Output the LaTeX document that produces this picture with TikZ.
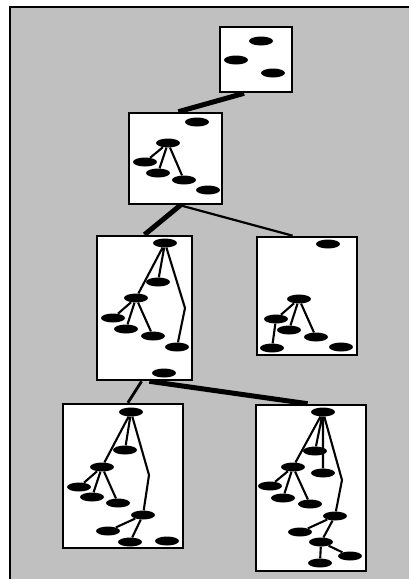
\documentclass[tikz,border=0pt]{standalone}
\usetikzlibrary{shapes.geometric,calc}
\definecolor{canvas}{HTML}{C0C0C0}
\begin{document}
\begin{tikzpicture}[x=1pt,y=-1pt,
  panel/.style={draw=black,line width=2.6pt,fill=white,inner sep=0pt},
  blob/.style={ellipse,fill=black,inner sep=0pt,minimum width=24pt,minimum height=9pt},
  link/.style={line width=2.1pt,line join=round},
  thickconn/.style={line width=5pt},
  thinconn/.style={line width=2.2pt},
  midconn/.style={line width=2.8pt}]
\useasboundingbox (0,0) rectangle (408,579);
% background sheet
\fill[canvas] (10,7) rectangle (412,583);
\draw[line width=2.2pt] (10,583) -- (10,7) -- (412,7);

% panels
\node[panel,minimum width=72pt,minimum height=65pt] (p1) at (256,59.5) {};
\node[panel,minimum width=93pt,minimum height=91pt] (p2) at (175.5,158.5) {};
\node[panel,minimum width=95pt,minimum height=144pt] (p3) at (144.5,308) {};
\node[panel,minimum width=100pt,minimum height=118pt] (p4) at (307,296) {};
\node[panel,minimum width=120pt,minimum height=144pt] (p5) at (123,476) {};
\node[panel,minimum width=110pt,minimum height=166pt] (p6) at (311,488) {};

% connectors between panels
\draw[thickconn] ($(p1.south west)!0.34!(p1.south east)$) -- ($(p2.north west)!0.53!(p2.north east)$);
\draw[thickconn] ($(p2.south west)!0.55!(p2.south east)$) -- ($(p3.north west)!0.50!(p3.north east)$);
\draw[thinconn]  ($(p2.south west)!0.55!(p2.south east)$) -- ($(p4.north west)!0.36!(p4.north east)$);
\draw[midconn]   ($(p3.south west)!0.47!(p3.south east)$) -- ($(p5.north west)!0.54!(p5.north east)$);
\draw[thickconn] ($(p3.south west)!0.55!(p3.south east)$) -- ($(p6.north west)!0.47!(p6.north east)$);

% panel 1
\node[blob] (a1) at (261,41) {};
\node[blob] (a2) at (236,60) {};
\node[blob] (a3) at (273,73) {};

% panel 2
\node[blob] (b1) at (197,122) {};
\node[blob] (b2) at (168,143) {};
\node[blob] (b3) at (145,162) {};
\node[blob] (b4) at (158,173) {};
\node[blob] (b5) at (184,180) {};
\node[blob] (b6) at (208,190) {};
\draw[link] (b2) -- (b3) (b2) -- (b4) (b2) -- (b5);

% panel 3
\node[blob] (c1) at (165,243) {};
\node[blob] (c2) at (158,282) {};
\node[blob] (c3) at (136,298) {};
\node[blob] (c4) at (113,318) {};
\node[blob] (c5) at (126,329) {};
\node[blob] (c6) at (153,336) {};
\node[blob] (c7) at (177,347) {};
\node[blob] (c8) at (164,373) {};
\coordinate (cb) at (185,308);
\draw[link] (c1) -- (c2) (c1) -- (c3) (c3) -- (c4) (c3) -- (c5) (c3) -- (c6);
\draw[link] (c1) -- (cb) -- (c7);

% panel 4
\node[blob] (d1) at (328,244) {};
\node[blob] (d2) at (299,299) {};
\node[blob] (d3) at (276,319) {};
\node[blob] (d4) at (289,330) {};
\node[blob] (d5) at (316,337) {};
\node[blob] (d6) at (272,348) {};
\node[blob] (d7) at (341,347) {};
\draw[link] (d2) -- (d3) (d2) -- (d4) (d2) -- (d5) (d3) -- (d6);

% panel 5
\node[blob] (e1) at (131,412) {};
\node[blob] (e2) at (125,450) {};
\node[blob] (e3) at (102,467) {};
\node[blob] (e4) at (79,487) {};
\node[blob] (e5) at (92,497) {};
\node[blob] (e6) at (118,503) {};
\node[blob] (e7) at (143,515) {};
\node[blob] (e8) at (108,531) {};
\node[blob] (e9) at (130,542) {};
\node[blob] (e10) at (167,541) {};
\coordinate (eb) at (149,475);
\draw[link] (e1) -- (e2) (e1) -- (e3) (e3) -- (e4) (e3) -- (e5) (e3) -- (e6);
\draw[link] (e1) -- (eb) -- (e7);
\draw[link] (e7) -- (e8) (e7) -- (e9);

% panel 6
\node[blob] (f1) at (323,412) {};
\node[blob] (f2) at (315,451) {};
\node[blob] (f3) at (323,473) {};
\node[blob] (f4) at (293,467) {};
\node[blob] (f5) at (270,486) {};
\node[blob] (f6) at (283,498) {};
\node[blob] (f7) at (310,504) {};
\node[blob] (f8) at (335,516) {};
\node[blob] (f9) at (300,532) {};
\node[blob] (f10) at (321,542) {};
\node[blob] (f11) at (350,556) {};
\node[blob] (f12) at (320,563) {};
\coordinate (fb) at (342,480);
\draw[link] (f1) -- (f2) (f1) -- (f3) (f1) -- (f4);
\draw[link] (f1) -- (fb) -- (f8);
\draw[link] (f4) -- (f5) (f4) -- (f6) (f4) -- (f7);
\draw[link] (f8) -- (f9) (f8) -- (f10) (f10) -- (f11) (f10) -- (f12);
\end{tikzpicture}
\end{document}
